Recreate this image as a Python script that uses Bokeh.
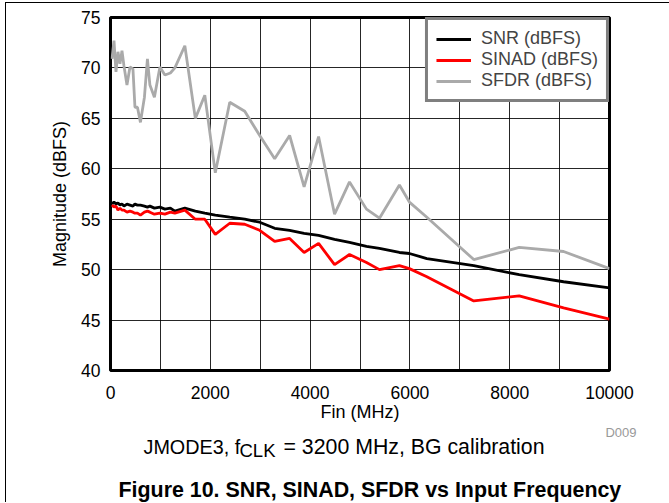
from bokeh.plotting import figure
from bokeh.models import Range1d, FixedTicker
from bokeh.layouts import column
from bokeh.core.properties import value
from bokeh.embed import file_html
from bokeh.resources import INLINE

# ---- data ----
fin_mhz = [30, 70, 110, 150, 190, 230, 270, 330, 390, 450, 490, 540, 600, 680, 740,
           790, 880, 990, 1090, 1200, 1290, 1490, 1700, 1890, 2100, 2390, 2690, 2990,
           3290, 3590, 3880, 4170, 4490, 4790, 5130, 5390, 5790, 5990, 6340, 7280,
           8190, 9080, 10000]
snr_dbfs = [56.5, 56.7, 56.5, 56.6, 56.4, 56.5, 56.3, 56.5, 56.4, 56.3, 56.5, 56.4, 56.4,
            56.3, 56.2, 56.3, 56.1, 56.2, 56.0, 56.1, 55.8, 56.1, 55.8, 55.6, 55.4, 55.2,
            55.0, 54.7, 54.1, 53.9, 53.6, 53.4, 53.0, 52.7, 52.3, 52.1, 51.7, 51.6, 51.1,
            50.4, 49.5, 48.8, 48.2]
sinad_dbfs = [56.4, 56.2, 56.3, 55.9, 56.1, 55.9, 55.9, 55.7, 55.8, 55.7, 55.6, 55.6, 55.4,
              55.7, 55.8, 55.7, 55.5, 55.6, 55.5, 55.7, 55.6, 55.9, 55.0, 55.0, 53.5, 54.6,
              54.5, 53.9, 52.8, 53.1, 51.7, 52.6, 50.5, 51.5, 50.7, 50.0, 50.4, 50.1, 49.3,
              46.9, 47.4, 46.2, 45.1]
sfdr_dbfs = [70.9, 72.7, 69.6, 71.6, 70.4, 71.7, 70.2, 68.3, 70.1, 69.9, 66.1, 66.1, 64.6,
             67.1, 70.9, 68.3, 67.1, 70.1, 69.3, 69.5, 70.0, 72.2, 65.0, 67.3, 59.6, 66.6,
             65.7, 63.3, 61.0, 63.3, 58.2, 63.2, 55.5, 58.7, 56.0, 55.1, 58.4, 56.7, 55.2,
             51.0, 52.2, 51.8, 50.1]
series_names = ["SNR (dBFS)", "SINAD (dBFS)", "SFDR (dBFS)"]
x_label_ticks = [0, 2000, 4000, 6000, 8000, 10000]
x_grid_ticks = [0, 1000, 2000, 3000, 4000, 5000, 6000, 7000, 8000, 9000, 10000]
y_ticks = [40, 45, 50, 55, 60, 65, 70, 75]

FONT = "Liberation Sans"
OX, OY = 6, 3          # where the bordered block starts on the page
W = 669 - OX
H1 = 424 - OY
H2 = 78

p = figure(width=W, height=H1, output_backend="svg", toolbar_location=None,
           x_range=Range1d(0, 10000), y_range=Range1d(40, 75),
           min_border_left=110 - OX, min_border_right=669 - 609,
           min_border_top=17 - OY, min_border_bottom=424 - 371)
p.frame_align = False
p.background_fill_color = "white"
p.border_fill_color = "white"
p.outline_line_color = "black"
p.outline_line_width = 3

p.line(fin_mhz, snr_dbfs, line_color="black", line_width=2.8, legend_label=series_names[0])
p.line(fin_mhz, sinad_dbfs, line_color="#ff0000", line_width=2.8, legend_label=series_names[1])
p.line(fin_mhz, sfdr_dbfs, line_color="#aaaaaa", line_width=2.8, legend_label=series_names[2])

p.xaxis.ticker = FixedTicker(ticks=x_label_ticks)
p.yaxis.ticker = FixedTicker(ticks=y_ticks)
p.xgrid.ticker = FixedTicker(ticks=x_grid_ticks)
p.ygrid.ticker = FixedTicker(ticks=y_ticks)
for g in (p.xgrid, p.ygrid):
    g.grid_line_color = "black"
    g.grid_line_alpha = 0.85
    g.grid_line_width = 1

for ax in (p.xaxis, p.yaxis):
    ax.axis_line_color = None
    ax.major_tick_line_color = None
    ax.minor_tick_line_color = None
    ax.major_label_text_font = FONT
    ax.major_label_text_font_size = "17.5px"
    ax.major_label_text_color = "black"
    ax.axis_label_text_font = FONT
    ax.axis_label_text_font_size = "18px"
    ax.axis_label_text_font_style = "normal"
    ax.axis_label_text_color = "black"
p.xaxis.axis_label = "Fin (MHz)"
p.yaxis.axis_label = "Magnitude (dBFS)"
p.xaxis.major_label_standoff = 9
p.xaxis.axis_label_standoff = 0
p.yaxis.major_label_standoff = 4
p.yaxis.axis_label_standoff = 8

lg = p.legend[0]
lg.location = "top_right"
lg.margin = 0
lg.padding = 8
lg.spacing = 0
lg.glyph_width = 35
lg.glyph_height = 20
lg.label_height = 20
lg.label_standoff = 10
lg.label_text_font = FONT
lg.label_text_font_size = "18px"
lg.border_line_color = "black"
lg.border_line_width = 3
lg.background_fill_alpha = 1

# ---- caption area (second figure, coordinates in page pixels) ----
p2 = figure(width=W, height=H2, output_backend="svg", toolbar_location=None,
            x_axis_type=None, y_axis_type=None,
            x_range=Range1d(OX, OX + W), y_range=Range1d(424 + H2, 424),
            min_border_left=0, min_border_right=0, min_border_top=0, min_border_bottom=0)
p2.frame_align = False
p2.outline_line_color = None
p2.background_fill_color = "white"
p2.border_fill_color = "white"


def add_text(fig, txt, x, y, size, color="black", style="normal", align="left"):
    fig.text(x=[x], y=[y], text=[txt], text_font=value(FONT), text_font_size=value(size),
             text_color=color, text_font_style=style, text_align=align,
             text_baseline="alphabetic")


add_text(p2, "D009", 636, 432, "13px", color="#999999", align="right")
add_text(p2, "JMODE3, f", 143, 446, "19.8px")
add_text(p2, "CLK", 239, 450, "18.5px")
add_text(p2, "= 3200 MHz, BG calibration", 283, 446, "21.3px")
add_text(p2, "Figure 10. SNR, SINAD, SFDR vs Input Frequency", 118, 489, "21.4px",
         style="bold")

layout = column(p, p2, spacing=0,
                styles={"border-left": "1px solid black", "border-top": "1px solid black",
                        "margin-left": "5px", "margin-top": "2px"})

open("out.html", "w").write(file_html(layout, INLINE))
